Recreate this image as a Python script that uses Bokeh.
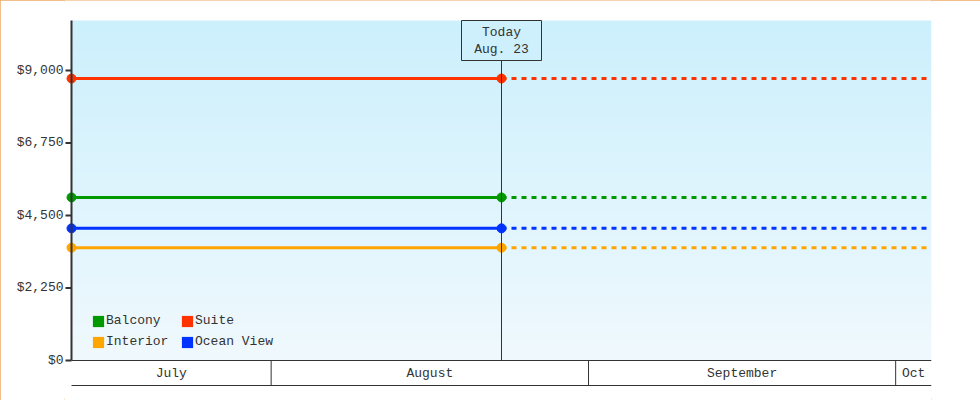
import numpy as np
import pandas as pd
from bokeh.plotting import figure
from bokeh.models import Range1d, FixedTicker, NumeralTickFormatter, Legend, LegendItem
from bokeh.core.properties import value
from bokeh.embed import file_html
from bokeh.resources import INLINE

# ---------------- data ----------------
categories = ["Balcony", "Suite", "Interior", "Ocean View"]
prices = [5060, 8750, 3500, 4100]
colors = ["#009900", "#ff3300", "#ffa500", "#0033ff"]
start_date = "2024-07-12 12:00"
today_date = "2024-08-23 12:00"
end_date = "2024-10-04 12:00"
today_label = ["Today", "Aug. 23"]
month_starts = ["2024-07-01", "2024-08-01", "2024-09-01", "2024-10-01", "2024-11-01"]
month_labels = ["July", "August", "September", "Oct"]
y_ticks = [0, 2250, 4500, 6750, 9000]
y_max = 10550

# ---------------- styling ----------------
FONT = "Liberation Mono"
TXT = "#333333"
W, H = 980, 400
LEFT, RIGHT = 71, 931          # plot area (pixels)
TOP, BOTTOM = 20, 360
FRAME_LEFT = 64                # drawing frame starts a little left of the axis line
BAND = 25                      # month band height
BG_TOP = (204, 240, 252)
BG_BOT = (240, 249, 254)

def ms(d):
    return pd.Timestamp(d).value / 1e6

t0, tt, t1 = ms(start_date), ms(today_date), ms(end_date)
upp = y_max / (BOTTOM - TOP)      # data units per pixel (y)
mpp = (t1 - t0) / (RIGHT - LEFT)  # ms per pixel (x)

def yd(px):
    """screen pixel row -> data y"""
    return (BOTTOM - px) * upp

p = figure(width=W, height=H, x_axis_type="datetime",
           x_range=Range1d(t0 - (LEFT - FRAME_LEFT) * mpp, t1), y_range=Range1d(yd(H), yd(0)),
           x_axis_location=None, output_backend="svg", toolbar_location=None,
           min_border_left=FRAME_LEFT, min_border_right=W - RIGHT, min_border_top=0, min_border_bottom=0)
p.outline_line_color = None
p.background_fill_color = "white"
p.border_fill_color = "white"
p.xgrid.visible = False
p.ygrid.visible = False
p.styles = {"outline": "2px solid #eca966", "outline-offset": "-2px"}

# gradient background of the plot area
n = BOTTOM - TOP
frac = np.linspace(0, 1, n)[:, None]
chan = [(BG_BOT[i] * (1 - frac) + BG_TOP[i] * frac).astype(np.uint32) for i in range(3)]
img = (np.uint32(255) << 24) | (chan[2] << 16) | (chan[1] << 8) | chan[0]
img = np.repeat(img, 2, axis=1).astype(np.uint32)
p.image_rgba(image=[img], x=t0, y=0, dw=t1 - t0, dh=y_max)

# series
for cat, price, col in zip(categories, prices, colors):
    p.line(x=[t0, tt], y=[price, price], line_color=col, line_width=3)
    p.line(x=[tt, t1], y=[price, price], line_color=col, line_width=3, line_dash="5 5")
    p.scatter(x=[t0, tt], y=[price, price], marker="circle", size=9,
              fill_color=col, line_color=col)

# y axis: line and ticks drawn at the data start, labels from the axis
p.segment(x0=[t0], y0=[0], x1=[t0], y1=[y_max], line_color=TXT, line_width=2)
p.ray(x=[t0] * len(y_ticks), y=y_ticks, length=6, length_units="screen", angle=np.pi,
      line_color=TXT, line_width=2)
ya = p.yaxis[0]
ya.ticker = FixedTicker(ticks=y_ticks)
ya.formatter = NumeralTickFormatter(format="$0,0")
ya.axis_line_color = None
ya.major_tick_line_color = None
ya.major_tick_out = 0
ya.major_tick_in = 0
ya.minor_tick_line_color = None
ya.major_label_standoff = 1
ya.major_label_text_font = FONT
ya.major_label_text_font_size = "13px"
ya.major_label_text_color = TXT

# today marker
box_y = yd(TOP + 20)
p.segment(x0=[tt], y0=[0], x1=[tt], y1=[yd(TOP + 40)], line_color=TXT, line_width=1)
bg_box = tuple(int(BG_BOT[i] + (BG_TOP[i] - BG_BOT[i]) * (box_y / y_max)) for i in range(3))
p.rect(x=[tt], y=[box_y], width=80, height=40, width_units="screen", height_units="screen",
       fill_color="#%02x%02x%02x" % bg_box, line_color=TXT, line_width=1)
p.text(x=[tt, tt], y=[yd(TOP + 12), yd(TOP + 29)], text=today_label, text_align="center",
       text_baseline="middle", text_font=value(FONT), text_font_size="13px", text_color=TXT)

# x axis: month band
bounds = [ms(m) for m in month_starts]
inner = [b for b in bounds if t0 < b < t1]
centers = [(max(t0, bounds[i]) + min(t1, bounds[i + 1])) / 2 for i in range(len(month_labels))]
p.segment(x0=[t0], y0=[0], x1=[t1], y1=[0], line_color=TXT, line_width=1)
p.segment(x0=[t0], y0=[yd(BOTTOM + BAND)], x1=[t1], y1=[yd(BOTTOM + BAND)],
          line_color=TXT, line_width=1)
p.segment(x0=inner, y0=[0] * len(inner), x1=inner, y1=[yd(BOTTOM + BAND)] * len(inner),
          line_color=TXT, line_width=1)
p.text(x=centers, y=[yd(BOTTOM + 13)] * len(centers), text=month_labels, text_align="center",
       text_baseline="middle", text_font=value(FONT), text_font_size="13px", text_color=TXT)

# legend
items = []
for cat, col in zip(categories, colors):
    r = p.quad(left=[np.nan], right=[np.nan], top=[np.nan], bottom=[np.nan],
               fill_color=col, line_color=None)
    items.append(LegendItem(label=cat, renderers=[r]))
leg = Legend(items=items, location=(20 + LEFT - FRAME_LEFT, 51), orientation="horizontal", ncols=2,
             glyph_width=14, glyph_height=14, label_height=14, label_width=68,
             label_standoff=1, spacing=6, padding=0, margin=0,
             background_fill_alpha=0, border_line_color=None,
             label_text_font=FONT, label_text_font_size="13px", label_text_color=TXT)
p.add_layout(leg)

open("out.html", "w").write(file_html(p, INLINE))
